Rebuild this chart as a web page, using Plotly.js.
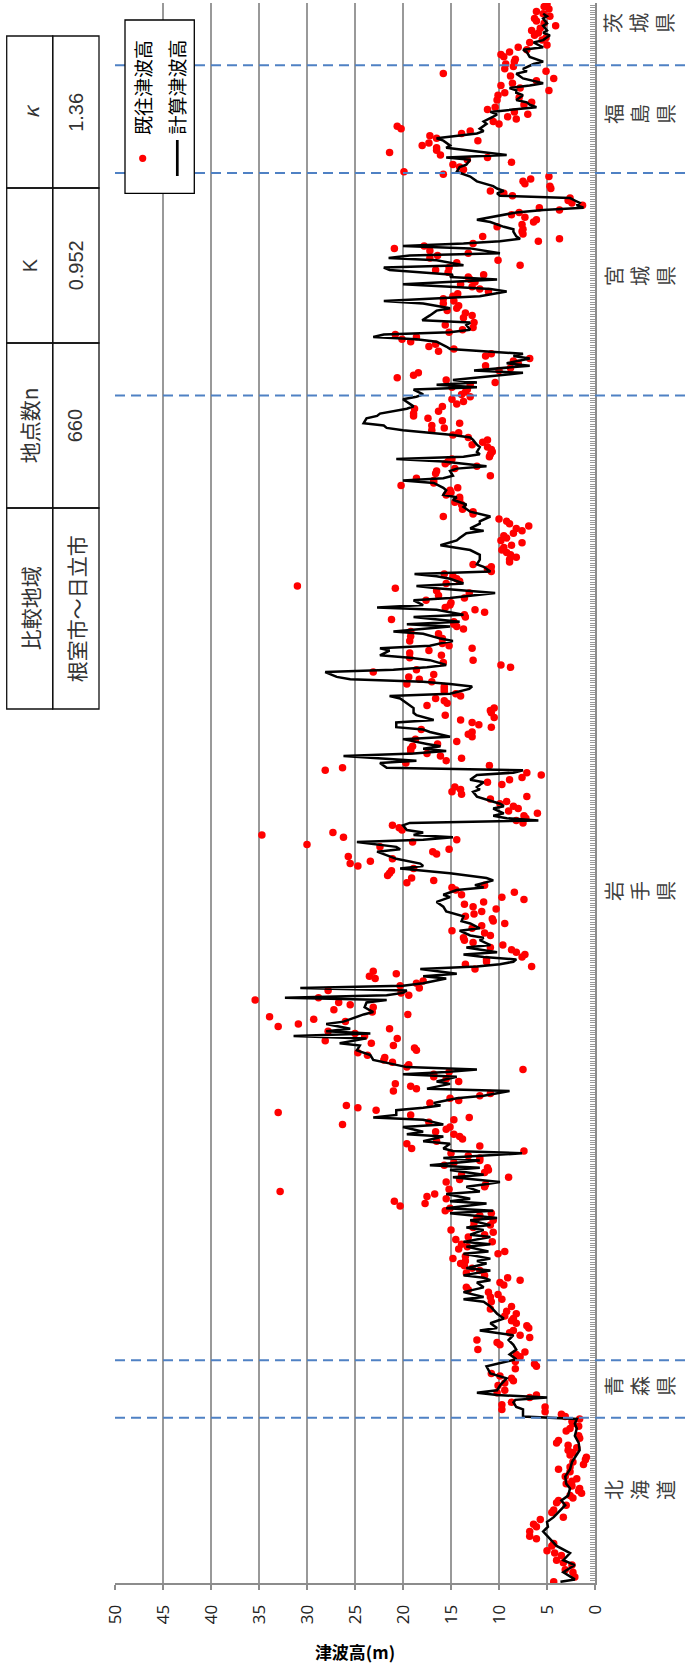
<!DOCTYPE html>
<html><head><meta charset="utf-8">
<script src="https://cdn.plot.ly/plotly-3.0.1.min.js"></script>
<style>html,body{margin:0;padding:0;background:#fff;}#chart{width:688px;height:1677px;}</style>
</head><body><div id="chart"></div>
<script>
// ---------------- DATA ----------------
// 既往津波高 (observed), by station number 0..659 (null = not read)
const obsHeight = [
4.3,null,2.1,null,2.3,3.1,null,2.4,3.3,4.0,
null,3.5,4.2,5.0,null,4.5,4.3,null,6.1,6.8,
null,6.8,null,6.1,6.4,null,5.7,3.3,null,4.5,
4.3,null,3.0,4.0,3.8,2.3,2.6,1.4,1.7,1.6,
2.4,3.0,2.4,1.9,3.1,null,2.6,3.8,2.6,1.2,
2.3,1.0,0.9,2.6,2.3,2.8,1.9,2.8,4.0,3.8,
1.6,1.7,null,3.0,2.6,1.7,2.3,2.4,1.6,3.1,
3.5,5.2,9.7,5.2,9.7,8.7,null,6.8,6.1,10.2,
9.4,null,10.1,9.4,8.5,8.7,9.9,10.8,null,8.3,
6.1,6.3,8.3,null,7.8,8.2,7.3,12.2,null,9.9,
10.2,12.3,6.8,7.8,8.9,8.5,6.9,7.1,8.2,8.7,
8.5,9.4,8.2,9.2,10.9,8.7,null,10.8,9.7,10.9,
10.1,11.1,13.2,13.4,9.5,9.9,7.8,9.1,11.5,13.4,
12.0,12.8,13.6,14.0,13.5,14.8,13.5,10.1,9.4,14.2,
13.3,13.9,10.7,14.5,13.2,11.5,10.6,15.0,12.7,10.9,
12.6,10.6,12.3,12.0,10.8,15.6,15.1,20.3,17.7,20.9,
15.5,17.5,16.7,32.8,15.2,11.5,11.4,15.5,14.1,9.0,
13.9,11.5,11.1,11.2,15.7,14.7,12.0,12.0,13.2,15.0,
7.4,19.1,12.0,19.6,16.5,13.8,14.1,14.7,16.6,15.5,
15.1,26.3,17.3,14.7,13.1,19.2,33.0,22.8,24.7,25.9,
17.2,14.2,15.1,12.0,10.9,21.0,18.6,19.2,20.8,14.2,
15.5,16.8,16.8,15.2,7.5,19.6,19.4,21.1,22.0,21.9,
23.7,24.7,18.6,18.8,21.0,23.3,28.1,20.6,24.0,25.0,
27.8,21.4,33.0,30.9,26.0,29.3,33.9,19.5,23.2,27.2,
23.1,25.5,26.7,35.4,28.8,19.4,20.2,27.8,18.3,20.3,
18.6,17.9,22.9,23.5,20.7,23.1,12.5,6.6,13.5,11.3,
11.3,7.6,7.3,8.2,8.7,10.9,9.6,12.7,13.6,13.7,
10.9,11.5,14.9,12.8,11.8,9.4,10.6,10.7,13.5,12.6,
11.8,10.3,12.7,13.6,11.6,7.4,9.7,13.9,8.4,14.5,
14.9,11.5,19.6,16.8,19.1,21.6,21.4,21.2,18.9,24.7,
25.5,23.4,21.1,25.7,16.5,16.9,15.2,22.4,30.0,19.0,
14.4,26.2,34.7,27.3,20.1,20.4,21.1,7.5,8.2,7.2,
7.4,6.0,9.0,8.0,8.5,9.9,9.2,10.9,7.1,13.9,
14.9,14.0,14.6,9.7,11.2,8.9,7.6,5.6,7.1,28.1,
26.3,11.0,19.7,15.5,13.9,16.1,17.5,19.2,19.2,19.0,
16.4,14.4,18.7,12.8,13.2,12.8,18.1,10.8,12.1,12.8,
14.0,10.5,15.6,10.8,10.9,10.5,17.5,15.4,15.7,16.6,
14.0,14.5,15.7,15.7,15.7,19.6,17.0,18.3,19.4,16.8,
23.1,18.6,8.8,9.8,15.8,12.7,19.3,16.0,19.3,17.3,
12.8,15.2,15.9,19.3,15.9,19.2,16.3,19.2,13.7,14.4,
14.7,14.7,21.2,13.5,13.6,11.5,12.5,15.6,15.1,15.0,
17.6,13.6,16.3,13.1,16.5,20.8,31.0,15.5,14.1,14.4,
14.8,15.7,10.8,11.2,10.8,12.7,8.9,8.9,8.2,8.8,
9.2,9.7,9.5,8.7,7.6,9.8,9.2,9.5,8.5,7.6,
8.2,6.9,8.9,9.2,10.0,15.8,12.7,12.7,13.8,13.8,
13.9,14.6,14.1,14.1,15.5,15.0,15.1,14.3,20.2,16.8,
16.8,18.6,10.9,16.6,16.5,14.6,12.3,15.6,15.3,14.9,
11.0,10.9,10.7,10.8,11.2,12.8,11.7,11.2,13.2,14.8,
14.2,17.0,15.7,17.0,14.1,15.9,17.4,18.9,18.9,16.3,
18.8,15.9,14.4,13.7,14.9,13.0,13.9,13.5,13.3,14.9,
13.0,10.4,15.5,20.6,18.9,18.4,10.0,8.8,11.4,8.0,
8.5,6.8,11.4,10.8,16.3,14.7,17.3,16.6,19.2,20.1,
18.6,20.8,15.2,13.8,12.7,15.6,12.6,null,13.7,12.8,
13.5,15.4,14.4,14.2,15.8,14.7,15.8,14.8,14.3,11.1,
12.0,12.8,14.0,12.5,13.0,13.2,11.6,15.3,16.6,15.2,
7.8,14.4,10.1,17.2,16.4,13.2,17.2,20.9,17.8,12.7,
5.9,3.7,11.7,7.5,7.6,7.5,10.2,7.6,6.4,6.1,
7.3,8.7,7.9,3.7,5.8,1.3,2.4,2.8,2.6,8.6,
9.5,10.9,4.6,4.7,7.3,7.5,6.7,4.8,15.8,19.9,
13.7,14.1,14.8,8.7,13.3,11.2,16.1,21.4,16.5,16.5,
18.0,17.3,12.2,16.5,17.2,13.9,13.0,20.2,20.6,10.0,
10.6,8.2,9.1,7.0,8.4,11.2,10.4,7.4,6.6,10.2,
7.9,10.1,9.4,4.8,7.8,9.8,8.6,6.1,4.3,8.8,
15.8,5.1,9.4,8.5,9.3,8.4,8.3,9.5,9.8,8.9,
7.1,8.0,5.0,6.8,5.5,5.1,6.3,5.9,6.6,5.7,
4.1,5.3,6.1,6.3,4.7,5.4,6.1,4.8,5.3,5.0
];

// 計算津波高 (computed) : station numbers and heights
const calcStation = [
0,1,4,7,9,12,15,18,21,23,25,27,30,32,34,36,39,41,44,47,50,53,55,58,61,64,66,68,69,72,73,75,76,77,78,79,80,82,85,87,90,92,93,95,97,99,101,103,105,106,108,110,112,115,117,118,119,121,123,125,126,
127,128,130,131,133,134,135,137,138,140,141,142,144,145,147,148,149,151,152,154,155,156,158,159,160,162,163,165,166,167,169,170,172,173,174,176,177,179,180,181,183,184,186,187,188,190,191,193,194,195,197,198,199,200,202,203,205,206,208,209,211,212,213,214,215,217,218,220,221,222,224,225,227,228,229,230,231,233,234,236,237,238,240,242,243,244,245,246,247,248,249,250,252,253,254,256,257,258,259,260,
261,262,263,265,266,268,269,270,272,273,275,276,278,280,282,284,286,287,289,290,291,293,294,296,298,299,300,302,303,305,306,307,309,310,311,312,313,314,316,317,318,319,320,321,323,324,325,327,328,330,331,332,334,335,337,338,339,340,341,342,343,344,345,346,347,348,349,350,352,353,355,356,357,359,360,362,363,365,367,369,370,371,373,374,375,376,377,378,380,381,382,383,385,386,387,389,390,391,392,393,
394,396,397,399,400,401,403,404,406,407,408,410,411,412,413,415,416,417,419,420,421,422,424,425,427,429,431,433,435,436,438,439,440,442,443,445,446,447,449,450,452,453,454,456,457,459,460,461,462,464,465,466,468,469,470,471,472,474,475,477,478,479,481,482,483,484,486,487,488,490,491,493,494,495,496,498,499,500,501,502,504,505,506,508,509,511,512,513,514,515,516,518,519,520,521,522,523,525,526,527,
529,531,532,534,535,536,537,539,540,541,542,544,545,546,548,549,550,552,553,554,555,557,558,559,560,561,562,564,565,566,567,568,569,570,571,572,573,574,575,576,577,578,579,580,581,582,583,584,585,587,588,589,591,592,594,595,596,598,599,600,602,603,605,606,607,609,610,612,613,614,615,616,617,618,619,621,622,623,624,625,626,627,628,630,631,632,634,635,636,637,639,640,641,643,644,646,647,648,650,651,653,654,655
];
const calcHeight = [
3.6,2.1,3.3,2.1,3.3,2.6,4.0,4.7,5.4,4.9,5.0,4.3,3.6,3.1,3.5,2.8,2.6,3.0,3.1,2.6,2.4,1.9,1.6,1.7,2.1,1.9,2.1,1.9,7.5,7.5,8.2,8.5,8.3,5.0,10.2,12.3,10.2,9.9,9.2,10.9,11.3,9.2,8.2,8.9,8.2,8.5,9.0,8.5,12.0,10.2,10.9,9.5,10.2,10.9,11.6,13.7,11.6,13.7,11.6,12.3,10.9,
11.6,13.7,10.9,13.4,11.3,12.3,10.9,13.7,11.1,13.4,10.9,13.7,10.9,13.0,11.6,13.4,10.9,13.0,10.2,15.1,10.6,15.5,11.3,15.1,13.0,15.5,12.0,13.4,11.6,9.9,14.8,11.6,15.1,12.0,17.2,12.0,15.8,7.6,14.8,15.8,15.1,17.9,15.8,19.6,17.9,20.0,15.8,17.9,23.1,20.7,20.7,17.9,16.1,16.8,14.4,11.6,8.9,17.5,15.1,16.5,14.4,20.0,15.5,12.3,19.6,22.0,23.1,23.4,24.1,24.8,24.5,26.6,23.8,31.4,23.4,28.0,25.5,28.0,26.2,24.8,24.1,23.1,24.0,23.8,21.7,32.3,21.7,20.0,19.6,30.7,20.0,17.9,15.5,17.9,14.4,18.2,12.3,9.9,8.5,8.2,
11.6,13.7,10.2,13.4,10.9,12.0,11.6,13.0,14.1,12.0,13.0,13.9,13.7,15.5,15.8,16.5,15.1,15.8,14.4,11.6,12.5,10.6,11.3,15.1,20.3,17.9,18.2,20.7,21.4,22.7,20.3,20.7,24.8,17.9,14.8,18.9,17.9,19.6,20.0,19.3,5.9,9.2,10.6,9.5,10.6,9.5,9.9,11.6,12.3,12.7,12.0,12.3,11.6,13.0,12.3,8.5,7.5,21.7,22.0,22.4,18.6,22.4,26.2,18.9,15.5,17.9,16.1,17.5,20.0,15.1,17.2,17.9,20.7,20.7,16.8,18.6,18.9,18.9,19.6,20.3,21.4,15.1,13.1,12.8,15.1,17.9,25.5,26.9,28.1,21.0,17.5,15.5,17.2,19.3,22.4,21.4,22.4,17.2,16.1,14.8,
16.1,17.9,21.0,15.1,19.6,14.1,18.9,13.7,16.5,22.7,17.9,18.9,15.1,13.0,10.4,16.5,18.6,13.7,15.1,16.5,18.8,10.9,11.6,12.3,12.0,12.0,13.0,16.1,14.4,14.1,13.4,11.6,13.0,12.0,12.0,10.9,12.0,13.0,13.7,13.4,14.8,14.4,15.8,15.5,15.8,16.8,20.0,15.8,14.8,15.1,14.4,11.3,15.8,20.7,13.7,12.0,12.3,12.0,12.3,12.7,13.0,14.8,20.0,21.7,22.0,24.1,23.8,22.7,22.4,19.6,18.9,19.6,20.0,18.6,17.9,18.9,12.3,16.5,12.3,14.8,9.6,7.5,12.6,6.8,9.2,6.8,8.5,7.5,11.6,15.1,15.5,16.5,18.6,23.1,22.0,15.1,13.0,13.4,13.0,18.0,
17.2,16.5,15.1,17.9,22.0,16.5,12.0,9.2,10.9,15.1,20.0,10.2,15.1,14.8,21.4,22.0,13.7,16.5,21.5,19.3,9.9,13.0,20.0,13.7,9.9,7.8,8.2,8.5,8.5,9.5,10.2,10.9,12.3,10.9,9.5,8.2,5.4,1.2,1.9,1.6,2.1,2.6,9.9,10.2,9.5,10.2,10.6,11.6,12.3,13.0,13.7,14.4,14.1,13.4,13.0,15.5,9.2,13.7,15.5,15.1,15.8,16.5,12.3,11.6,12.0,11.3,11.6,10.6,10.2,10.9,8.2,6.1,6.8,7.1,8.2,7.5,8.2,8.2,8.9,6.8,5.4,6.4,7.5,8.2,7.1,7.5,6.4,5.4,6.1,6.8,7.1,7.5,5.4,6.4,5.4,4.7,5.4,5.0,5.4,5.0,5.4,5.0,5.4
];

const prefNames = ['北海道', '青森県', '岩手県', '宮城県', '福島県', '茨城県'];
const prefBoundaries = [68.5, 92.5, 495.5, 588.5, 633.5];   // station numbers between prefectures
const heightTicks = [0, 5, 10, 15, 20, 25, 30, 35, 40, 45, 50];
const legendNames = ['既往津波高', '計算津波高'];
const tableHeaders = ['比較地域', '地点数n', 'K', '<i>κ</i>'];
const tableValues = ['根室市〜日立市', '660', '0.952', '1.36'];

const obsStation = obsHeight.map((v, i) => i);

// ---------------- LAYOUT (pixel geometry) ----------------
const W = 688, H = 1677, L = 115, R = 595, T = 3, B = 1583;
const px = x => (x - L) / (R - L);
const py = y => (B - y) / (B - T);
const CJK = "'Noto Sans CJK JP', 'Noto Sans', sans-serif";
const TXT = '#333333';

const prefLabelY = [1490, 1386, 891, 276, 114, 23];
const prefLabelX = 639;
const tableColX = [6.7, 52.7, 99];
const tableRowY = [709, 508, 343, 188, 36];   // bottom -> top

const shapes = [];
const annotations = [];

// prefecture boundaries
prefBoundaries.forEach(b => shapes.push({
  type: 'line', xref: 'paper', yref: 'y', x0: 0, x1: px(W), y0: b, y1: b,
  line: {color: '#4F81C4', width: 2, dash: '10px,6px'}, layer: 'above'
}));

// prefecture labels
prefNames.forEach((n, i) => annotations.push({
  xref: 'paper', yref: 'paper', x: px(prefLabelX), y: py(prefLabelY[i]),
  text: n.split('').join('<br>'), textangle: -90, showarrow: false,
  xanchor: 'center', yanchor: 'middle',
  font: {family: CJK, size: 20, color: '#404040'}
}));

// legend box
shapes.push({type: 'rect', xref: 'paper', yref: 'paper', x0: px(125), x1: px(194.3), y0: py(193.3), y1: py(20),
  fillcolor: '#ffffff', line: {color: '#000', width: 1.3}, layer: 'above'});
shapes.push({type: 'circle', xref: 'paper', yref: 'paper', x0: px(142.7 - 3.6), x1: px(142.7 + 3.6),
  y0: py(158.3 + 3.6), y1: py(158.3 - 3.6), fillcolor: '#FF0000', line: {width: 0}, layer: 'above'});
shapes.push({type: 'line', xref: 'paper', yref: 'paper', x0: px(177.3), x1: px(177.3), y0: py(176), y1: py(140),
  line: {color: '#000', width: 2.7}, layer: 'above'});
[[142.5, 87.5], [176, 87.5]].forEach((p, i) => annotations.push({
  xref: 'paper', yref: 'paper', x: px(p[0]), y: py(p[1]), text: legendNames[i], textangle: -90,
  showarrow: false, xanchor: 'center', yanchor: 'middle', font: {family: CJK, size: 19, color: '#000'}
}));

// table
for (let c = 0; c < 2; c++) {
  for (let r = 0; r < 4; r++) {
    shapes.push({type: 'rect', xref: 'paper', yref: 'paper',
      x0: px(tableColX[c]), x1: px(tableColX[c + 1]), y0: py(tableRowY[r]), y1: py(tableRowY[r + 1]),
      line: {color: '#111', width: 1.3}, fillcolor: 'rgba(0,0,0,0)', layer: 'above'});
    const txt = c === 0 ? tableHeaders[r] : tableValues[r];
    const isNum = /^[0-9.]+$/.test(txt) || txt === 'K';
    annotations.push({xref: 'paper', yref: 'paper',
      x: px((tableColX[c] + tableColX[c + 1]) / 2), y: py((tableRowY[r] + tableRowY[r + 1]) / 2),
      text: txt, textangle: -90, showarrow: false, xanchor: 'center', yanchor: 'middle',
      font: {family: isNum ? "'Liberation Sans', Arial, sans-serif" : CJK, size: isNum ? 20 : 21, color: TXT}});
  }
}

const traces = [
  {type: 'scatter', mode: 'markers', name: legendNames[0], x: obsHeight, y: obsStation,
   marker: {color: '#FF0000', size: 7.5}, showlegend: false, hoverinfo: 'skip'},
  {type: 'scatter', mode: 'lines', name: legendNames[1], x: calcHeight, y: calcStation,
   line: {color: '#000000', width: 2.5}, showlegend: false, hoverinfo: 'skip'}
];

const layout = {
  width: W, height: H,
  margin: {l: L, r: W - R, t: T, b: H - B, pad: 0},
  paper_bgcolor: '#fff', plot_bgcolor: '#fff',
  showlegend: false,
  font: {family: "'Open Sans', 'Noto Sans', sans-serif", color: TXT},
  xaxis: {
    range: [50, 0], tickmode: 'array', tickvals: heightTicks, ticktext: heightTicks.map(String),
    showgrid: true, gridcolor: '#999999', gridwidth: 1.2, zeroline: false,
    showline: true, linecolor: '#8c8c8c', linewidth: 2,
    ticks: 'outside', ticklen: 5, tickcolor: '#8c8c8c', tickwidth: 1.5,
    tickangle: -90, ticklabelstandoff: 8,
    tickfont: {family: "'Open Sans', 'Noto Sans', sans-serif", size: 17, color: '#222'},
    title: {text: '津波高(m)', standoff: 24, font: {family: CJK, size: 17, color: '#000', weight: 'bold'}},
    automargin: false, fixedrange: true
  },
  yaxis: {
    range: [-0.5, 659.5], side: 'right', showgrid: false, zeroline: false,
    showline: true, linecolor: '#8c8c8c', linewidth: 2,
    tickmode: 'linear', tick0: 0.5, dtick: 1, ticks: 'inside', ticklen: 5, tickcolor: '#999999', tickwidth: 1,
    showticklabels: false, automargin: false, fixedrange: true
  },
  shapes: shapes,
  annotations: annotations
};

Plotly.newPlot('chart', traces, layout, {staticPlot: true, displayModeBar: false});
</script></body></html>
